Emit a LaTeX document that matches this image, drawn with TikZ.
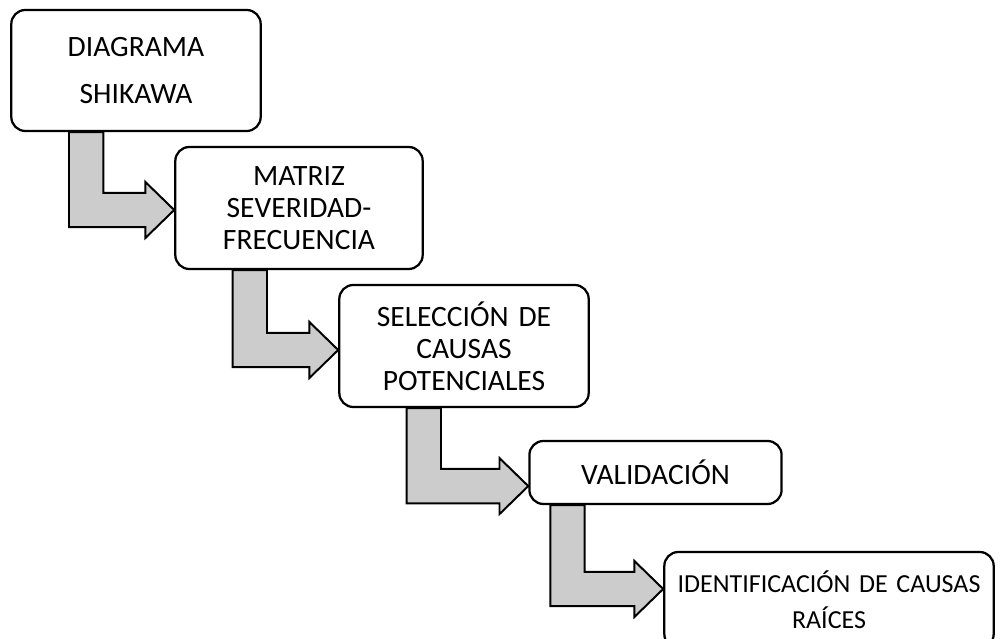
\documentclass[tikz,border=0pt]{standalone}
\usepackage{fontspec}
\setmainfont{Carlito}
\usetikzlibrary{calc}
\definecolor{FlechaGris}{RGB}{204,204,204}

%% bent block arrow: source node, target node, shaft offset, tip offset
\newcommand{\flecha}[4]{%
  \draw[flecha] let \p1=($(#1.south west)+(#3,0)$), \p2=($(#2.west)+(0,#4)$) in
    (\x1-0.43cm,\y1) -- (\x1+0.43cm,\y1) -- (\x1+0.43cm,\y2+0.43cm)
    -- (\x2-0.72cm,\y2+0.43cm) -- (\x2-0.72cm,\y2+0.7cm) -- (\x2,\y2)
    -- (\x2-0.72cm,\y2-0.7cm) -- (\x2-0.72cm,\y2-0.43cm) -- (\x1-0.43cm,\y2-0.43cm) -- cycle;}

\begin{document}
\begin{tikzpicture}[text height=1.5ex,text depth=0.25ex]
			\clip (0,0) rectangle (25,15.975);
			\tikzset{caja/.style={draw,line width=1.6pt,rectangle,rounded corners=0.35cm,fill=white,
			    align=center,text height=,text depth=,font=\fontsize{21}{22.8}\selectfont},
			  flecha/.style={draw,line width=1.4pt,fill=FlechaGris,line join=miter}}
			
			%% Steps
			\draw (3.4,14.2125) node [caja,text width=6cm,minimum height=3.025cm] (ish) {DIAGRAMA\\[0.37cm]SHIKAWA};
			\draw (7.475,10.775) node [caja,text width=5.95cm,minimum height=3.05cm] (mat) {MATRIZ\\SEVERIDAD-\\FRECUENCIA};
			\draw (11.6,7.325) node [caja,text width=6cm,minimum height=3.05cm] (sel) {SELECCIÓN DE\\CAUSAS\\POTENCIALES};
			\draw (16.3875,4.1625) node [caja,text width=6.07cm,minimum height=1.575cm] (val) {VALIDACIÓN};
			\draw (20.725,0.975) node [caja,text width=8cm,minimum height=2.4cm,
			    font=\fontsize{18.5}{25.6}\selectfont] (rai) {IDENTIFICACIÓN DE CAUSAS\\RAÍCES};
			
			%% Arrows
			\flecha{ish}{mat}{1.9cm}{-0.05cm}
			\flecha{mat}{sel}{1.89cm}{-0.1cm}
			\flecha{sel}{val}{2.14cm}{-0.34cm}
			\flecha{val}{rai}{0.98cm}{0.275cm}
			
\end{tikzpicture}
\end{document}
